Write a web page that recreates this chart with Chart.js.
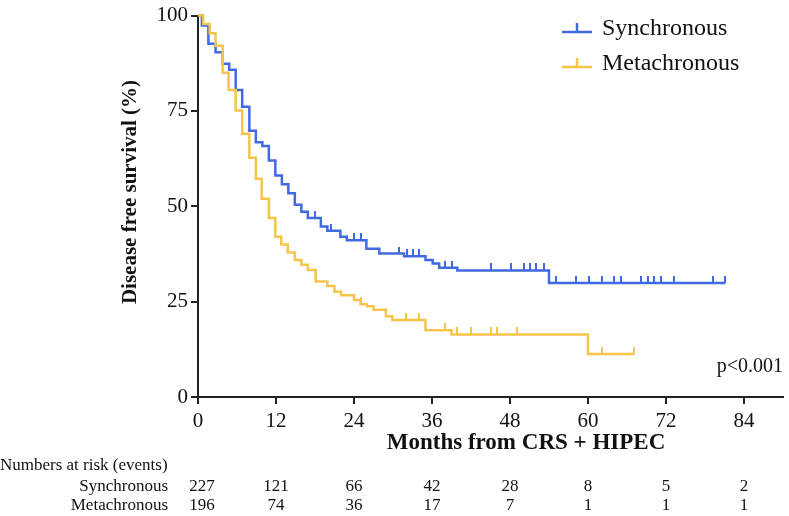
<!DOCTYPE html>
<html lang="en">
<head>
<meta charset="UTF-8">
<title>Disease free survival</title>
<script src="https://cdn.jsdelivr.net/npm/chart.js@4.4.0/dist/chart.umd.min.js"></script>
<style>
  html, body { margin: 0; padding: 0; background: #fff; }
</style>
</head>
<body>
<canvas id="km" width="789" height="516"></canvas>
<script>
// Kaplan-Meier steps (month, survival %)
const syncMonths = [0, 0.6, 1.6, 2.7, 3.8, 4.8, 5.8, 6.8, 7.9, 8.9, 9.9, 10.9, 11.9, 12.9, 13.9, 14.9, 15.9, 16.9, 18.9, 19.9, 21.9, 22.9, 25.9, 27.9, 31.7, 35.0, 36.1, 37.1, 39.9, 54.0, 81.1];
const syncSurv   = [100, 97.4, 92.6, 90.4, 87.4, 85.8, 80.5, 76.1, 69.8, 66.8, 65.8, 62.0, 58.1, 55.8, 53.4, 50.4, 48.6, 46.9, 44.7, 43.6, 42.0, 41.1, 38.9, 37.6, 36.9, 35.9, 35.0, 33.9, 33.2, 29.9, 29.9];
const syncCensor = [18.0, 20.5, 24.0, 25.0, 30.9, 32.2, 33.1, 34.0, 38.0, 39.0, 45.1, 48.1, 50.1, 51.1, 52.0, 53.2, 55.1, 58.1, 60.1, 62.2, 64.0, 65.0, 68.1, 69.2, 70.2, 71.2, 73.3, 79.3, 81.1];

const metaMonths = [0, 0.8, 1.8, 2.7, 3.8, 4.7, 5.8, 6.8, 7.9, 8.9, 9.8, 10.9, 11.9, 12.8, 13.8, 14.9, 15.9, 16.9, 18.1, 19.9, 21.0, 22.0, 24.0, 25.0, 26.0, 27.0, 28.9, 29.9, 35.0, 39.0, 60.0, 67.1];
const metaSurv   = [100, 97.8, 95.4, 92.1, 85.0, 80.5, 75.1, 69.0, 62.7, 57.2, 52.0, 46.9, 42.0, 40.0, 37.9, 35.9, 34.7, 33.3, 30.3, 29.1, 27.6, 26.7, 25.4, 24.3, 23.8, 22.9, 21.2, 20.2, 17.5, 16.4, 11.3, 11.3];
const metaCensor = [25.0, 32.0, 34.0, 38.0, 39.9, 42.0, 45.0, 46.0, 49.1, 62.2, 67.1];

const groups = ['Synchronous', 'Metachronous'];
const xTicks = [0, 12, 24, 36, 48, 60, 72, 84];
const yTicks = [0, 25, 50, 75, 100];
const riskSync = [227, 121, 66, 42, 28, 8, 5, 2];
const riskMeta = [196, 74, 36, 17, 7, 1, 1, 1];

const BLUE = '#4169e1';
const GOLD = '#f4c54a';
const SERIF = '"Liberation Serif", "DejaVu Serif", serif';

function pts(ms, ss) {
  return ms.map((m, i) => ({ x: m, y: ss[i] }));
}
// survival at time t from the step function
function survAt(ms, ss, t) {
  let v = ss[0];
  for (let i = 0; i < ms.length; i++) if (ms[i] <= t) v = ss[i];
  return v;
}
function censorPts(cs, ms, ss) {
  return cs.map(t => ({ x: t, y: survAt(ms, ss, t) }));
}
// little upward tick used for censored patients
function tickMark(color) {
  const c = document.createElement('canvas');
  c.width = 2; c.height = 14;
  const g = c.getContext('2d');
  g.fillStyle = color;
  g.fillRect(0, 0, 2, 7);
  return c;
}

const extras = {
  id: 'extras',
  afterDraw(chart) {
    const ctx = chart.ctx;
    const xs = chart.scales.x;
    ctx.save();
    ctx.fillStyle = '#111';

    // y title
    ctx.save();
    ctx.translate(131, 192);
    ctx.rotate(-Math.PI / 2);
    ctx.font = 'bold 21px ' + SERIF;
    ctx.textAlign = 'center';
    ctx.textBaseline = 'middle';
    ctx.fillText('Disease free survival (%)', 0, 0);
    ctx.restore();

    // x title
    ctx.font = 'bold 23px ' + SERIF;
    ctx.textAlign = 'center';
    ctx.textBaseline = 'middle';
    ctx.fillText('Months from CRS + HIPEC', 526, 443);

    // legend
    const cols = [BLUE, GOLD];
    groups.forEach((g, i) => {
      const y = 32 + i * 35;
      ctx.strokeStyle = cols[i];
      ctx.lineWidth = 2.5;
      ctx.beginPath();
      ctx.moveTo(562, y); ctx.lineTo(592, y);
      ctx.moveTo(577, y); ctx.lineTo(577, y - 9);
      ctx.stroke();
      ctx.font = '24px ' + SERIF;
      ctx.textAlign = 'left';
      ctx.textBaseline = 'alphabetic';
      ctx.fillText(g, 602, y + 3);
    });

    // p value
    ctx.font = '20px ' + SERIF;
    ctx.textAlign = 'right';
    ctx.textBaseline = 'alphabetic';
    ctx.fillText('p<0.001', 783, 372);

    // numbers at risk
    ctx.font = '17px ' + SERIF;
    ctx.textBaseline = 'middle';
    ctx.textAlign = 'left';
    ctx.fillText('Numbers at risk (events)', 0, 466);
    ctx.textAlign = 'right';
    ctx.fillText(groups[0], 168, 487);
    ctx.fillText(groups[1], 168, 506);
    ctx.textAlign = 'center';
    xTicks.forEach((t, i) => {
      const px = xs.getPixelForValue(t) + (i === 0 ? 4 : 0);
      ctx.fillText(String(riskSync[i]), px, 487);
      ctx.fillText(String(riskMeta[i]), px, 506);
    });
    ctx.restore();
  }
};

new Chart(document.getElementById('km'), {
  type: 'line',
  data: {
    datasets: [
      {
        label: groups[1],
        data: pts(metaMonths, metaSurv),
        stepped: 'before',
        borderColor: GOLD,
        borderWidth: 2.5,
        pointRadius: 0,
        fill: false,
        clip: 4
      },
      {
        label: groups[1] + ' censored',
        data: censorPts(metaCensor, metaMonths, metaSurv),
        showLine: false,
        pointStyle: tickMark(GOLD),
        pointRadius: 4,
        clip: 10
      },
      {
        label: groups[0],
        data: pts(syncMonths, syncSurv),
        stepped: 'before',
        borderColor: BLUE,
        borderWidth: 2.5,
        pointRadius: 0,
        fill: false,
        clip: 4
      },
      {
        label: groups[0] + ' censored',
        data: censorPts(syncCensor, syncMonths, syncSurv),
        showLine: false,
        pointStyle: tickMark(BLUE),
        pointRadius: 4,
        clip: 10
      }
    ]
  },
  options: {
    responsive: false,
    devicePixelRatio: 1,
    animation: false,
    layout: { padding: { top: 15, right: 6, left: 0, bottom: 0 } },
    plugins: { legend: { display: false }, tooltip: { enabled: false } },
    scales: {
      x: {
        type: 'linear',
        min: 0,
        max: 90,
        afterBuildTicks: s => { s.ticks = xTicks.map(v => ({ value: v })); },
        afterFit: s => { s.height = 119; },
        grid: { drawOnChartArea: false, drawTicks: true, tickLength: 7, color: '#222', lineWidth: 2 },
        border: { display: true, color: '#222', width: 2 },
        ticks: { font: { family: SERIF, size: 21 }, color: '#111', padding: 5, maxRotation: 0, autoSkip: false }
      },
      y: {
        min: 0,
        max: 100,
        afterBuildTicks: s => { s.ticks = yTicks.map(v => ({ value: v })); },
        afterFit: s => { s.width = 198; },
        grid: { drawOnChartArea: false, drawTicks: true, tickLength: 7, color: '#222', lineWidth: 2 },
        border: { display: true, color: '#222', width: 2 },
        ticks: { font: { family: SERIF, size: 21 }, color: '#111', padding: 3 }
      }
    }
  },
  plugins: [extras]
});
</script>
</body>
</html>
